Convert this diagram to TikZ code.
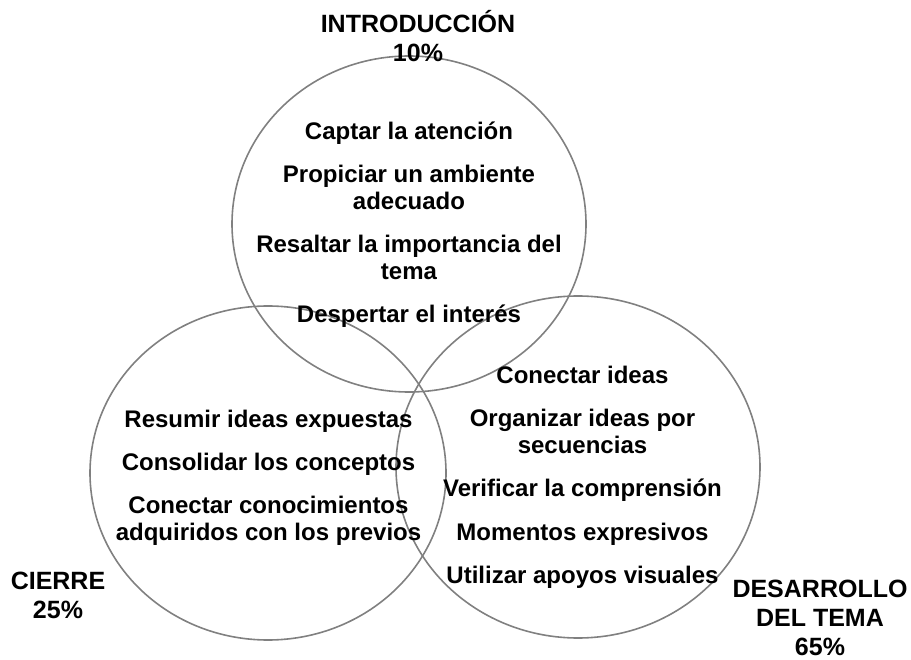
\documentclass[tikz,border=0pt]{standalone}
\usepackage{fontspec}
\setmainfont{Liberation Sans}
\usetikzlibrary{shapes.geometric}
\definecolor{ringgray}{RGB}{128,128,128}
\begin{document}
\begin{tikzpicture}[x=1pt,y=-1pt,
  ring/.style={draw=ringgray,line width=1.6pt,ellipse,inner sep=0pt},
  item/.style={font=\fontsize{24}{27}\selectfont\bfseries,align=center,anchor=base,inner sep=0pt},
  lbl/.style={font=\fontsize{25}{29}\selectfont\bfseries,align=center,anchor=base,inner sep=0pt}]
\useasboundingbox (0,0) rectangle (911,660);
% circles
\node[ring,minimum width=354pt,minimum height=336pt] (intro) at (409,224) {};
\node[ring,minimum width=356pt,minimum height=334pt] (cierre) at (268,473) {};
\node[ring,minimum width=364pt,minimum height=342pt] (desa) at (578,467) {};
% top circle items (anchor = baseline of last line)
\node[item] (t1) at (409,139.3) {Captar la atención};
\node[item] (t2) at (409,209.5) {Propiciar un ambiente\\adecuado};
\node[item] (t3) at (409,280) {Resaltar la importancia del\\tema};
\node[item] (t4) at (409,322.7) {Despertar el interés};
% left circle items
\node[item] (l1) at (268.5,427.3) {Resumir ideas expuestas};
\node[item] (l2) at (268.5,470) {Consolidar los conceptos};
\node[item] (l3) at (268.5,540.5) {Conectar conocimientos\\adquiridos con los previos};
% right circle items
\node[item] (r1) at (582.5,383.3) {Conectar ideas};
\node[item] (r2) at (582.5,453.3) {Organizar ideas por\\secuencias};
\node[item] (r3) at (582.5,496.7) {Verificar la comprensión};
\node[item] (r4) at (582.5,540) {Momentos expresivos};
\node[item] (r5) at (582.5,583.3) {Utilizar apoyos visuales};
% labels
\node[lbl] (lab1) at (418,61.5) {INTRODUCCIÓN\\10\%};
\node[lbl] (lab2) at (58,618.3) {CIERRE\\25\%};
\node[lbl] (lab3) at (820,655) {DESARROLLO\\DEL TEMA\\65\%};
\end{tikzpicture}
\end{document}
